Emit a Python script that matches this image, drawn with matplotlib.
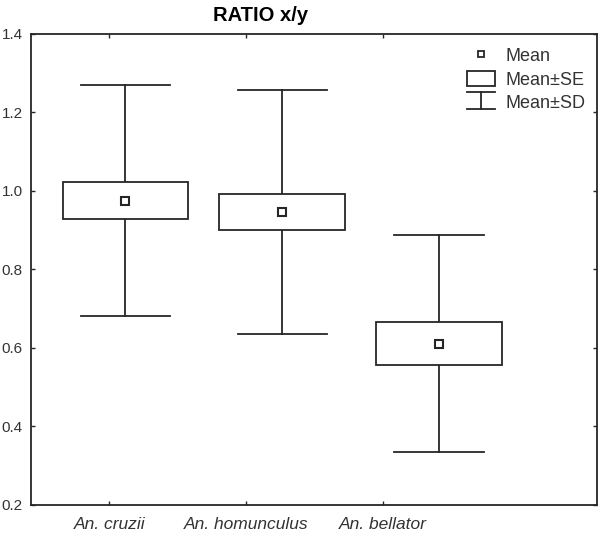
import numpy as np
import matplotlib
matplotlib.use("Agg")
from matplotlib import pyplot as plt
from matplotlib.lines import Line2D
from matplotlib.patches import Rectangle
from matplotlib.legend_handler import HandlerBase

# dados
especies = ["An. cruzii", "An. homunculus", "An. bellator"]
media = [0.975, 0.946, 0.611]
ep = [0.047, 0.045, 0.054]      # erro padrão
dp = [0.295, 0.310, 0.277]      # desvio padrão

plt.rcParams['font.family'] = ['Liberation Sans', 'DejaVu Sans']
cor = '#262626'

fig = plt.figure(figsize=(6.0, 5.36), dpi=100)
ax = fig.add_axes([0.052, 0.058, 0.943, 0.879])

pos = np.arange(len(especies))
larg_caixa = 0.80
larg_barra = 0.57

for x, m, e, d in zip(pos, media, ep, dp):
    # bigodes (media +- dp)
    ax.plot([x, x], [m + e, m + d], color=cor, lw=1.3)
    ax.plot([x, x], [m - d, m - e], color=cor, lw=1.3)
    ax.plot([x - larg_barra / 2, x + larg_barra / 2], [m + d, m + d], color=cor, lw=1.3)
    ax.plot([x - larg_barra / 2, x + larg_barra / 2], [m - d, m - d], color=cor, lw=1.3)
    # caixa (media +- ep)
    ax.add_patch(Rectangle((x - larg_caixa / 2, m - e), larg_caixa, 2 * e,
                           facecolor='white', edgecolor=cor, lw=1.3, zorder=2))
ax.plot(pos, media, 's', ms=6, mfc='white', mec=cor, mew=1.5, ls='none', zorder=3)

ax.set_ylim(0.2, 1.4)
ax.set_xlim(-0.60, 3.006)
ax.set_yticks([0.2, 0.4, 0.6, 0.8, 1.0, 1.2, 1.4])
ax.set_yticklabels(["0.2", "0.4", "0.6", "0.8", "1.0", "1.2", "1.4"])
pos_ticks = pos * 0.873 - 0.102
ax.set_xticks(pos_ticks)
ax.set_xticklabels(especies, fontstyle='italic', fontsize=12.5, color='#333333')
ax.tick_params(axis='both', direction='in', length=3, width=1, color=cor,
               top=True, right=True)
ax.tick_params(axis='y', labelsize=11, labelcolor='#333333', pad=6)
ax.tick_params(axis='x', pad=9)
for s in ax.spines.values():
    s.set_linewidth(1.3)
    s.set_color(cor)

ax.set_title("RATIO x/y", fontsize=14.5, fontweight='bold', x=0.405, pad=9)


class HandlerDP(HandlerBase):
    def create_artists(self, legend, orig_handle, xdescent, ydescent,
                       width, height, fontsize, trans):
        meio = width / 2 - xdescent
        topo = height * 1.05
        base = -height * 0.05
        l1 = Line2D([0, width], [topo, topo], color=cor, lw=1.3, transform=trans)
        l2 = Line2D([meio, meio], [base, topo], color=cor, lw=1.3, transform=trans)
        l3 = Line2D([0, width], [base, base], color=cor, lw=1.3, transform=trans)
        return [l1, l2, l3]


h_media = Line2D([], [], marker='s', ms=5, mfc='white', mec=cor, mew=1.3, ls='none')
h_ep = Rectangle((0, 0), 1, 1, facecolor='white', edgecolor=cor, lw=1.3)
h_dp = object()
leg = ax.legend([h_media, h_ep, h_dp], ["Mean", "Mean±SE", "Mean±SD"],
                handler_map={h_dp: HandlerDP()}, loc='upper right', frameon=False,
                fontsize=13, handlelength=1.55, handleheight=0.95, handletextpad=0.6,
                labelspacing=0.3, borderaxespad=0.0, bbox_to_anchor=(0.993, 0.987))
for t in leg.get_texts():
    t.set_color('#333333')

plt.savefig("out.png", dpi=100)
